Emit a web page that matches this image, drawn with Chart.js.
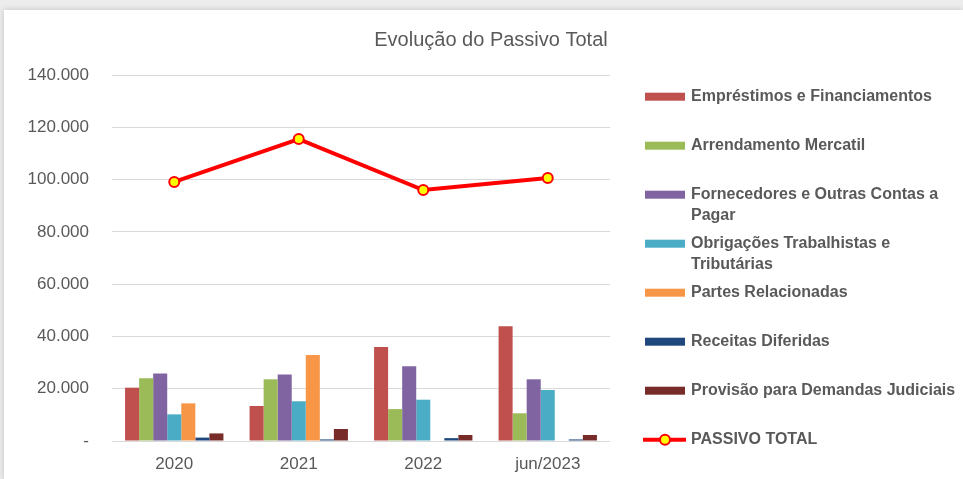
<!DOCTYPE html>
<html>
<head>
<meta charset="utf-8">
<script src="https://cdn.jsdelivr.net/npm/chart.js@4.4.1/dist/chart.umd.min.js"></script>
<style>
  html, body { margin: 0; padding: 0; background: #ececec; }
  #painel {
    position: absolute; left: 4px; top: 10px; width: 959px; height: 469px;
    background: #fff; box-shadow: 0 0 6px rgba(0,0,0,0.18);
  }
  canvas { display: block; }
</style>
</head>
<body>
<div id="painel"><canvas id="graficoPassivo" width="959" height="469"></canvas></div>
<script>
const categorias = ['2020', '2021', '2022', 'jun/2023'];

const emprestimos   = [20400, 13400, 36000, 43900];
const arrendamento  = [24000, 23600, 12200, 10600];
const fornecedores  = [25800, 25400, 28600, 23600];
const obrigacoes    = [10200, 15200, 15800, 19500];
const partesRel     = [14400, 32900, 0, 0];
const receitasDif   = [1300, 600, 1100, 600];
const provisao      = [2900, 4600, 2300, 2300];
const passivoTotal  = [99100, 115500, 96000, 100600];

const ticksY = [0, 20000, 40000, 60000, 80000, 100000, 120000, 140000];

const titulo = 'Evolução do Passivo Total';
const corTexto = '#595959';
const fonte = "'Liberation Sans', Arial, sans-serif";

function barra(label, data, cor) {
    return { type: 'bar', label: label, data: data, backgroundColor: cor, borderWidth: 0, order: 2 };
}

// titulo centralizado no quadro inteiro (o do Chart.js fica só em cima do gráfico)
const tituloQuadro = {
    id: 'tituloQuadro',
    afterDraw(chart) {
        const ctx = chart.ctx;
        ctx.save();
        ctx.font = '20px ' + fonte;
        ctx.fillStyle = corTexto;
        ctx.textAlign = 'center';
        ctx.textBaseline = 'middle';
        ctx.fillText(titulo, 487, 30);
        ctx.restore();
    }
};

// legenda desenhada à mão pra poder quebrar linha como no Excel
const legendaLateral = {
    id: 'legendaLateral',
    afterDraw(chart) {
        const ctx = chart.ctx;
        const x0 = 641, xTexto = 687, y0 = 86.7, passo = 49, maxLarg = 272;
        ctx.save();
        ctx.font = 'bold 16px ' + fonte;
        ctx.fillStyle = corTexto;
        ctx.textBaseline = 'middle';
        chart.data.datasets.forEach((ds, i) => {
            const y = y0 + i * passo;
            if (ds.type === 'line') {
                ctx.strokeStyle = ds.borderColor;
                ctx.lineWidth = 4;
                ctx.beginPath(); ctx.moveTo(x0 - 2, y); ctx.lineTo(x0 + 41, y); ctx.stroke();
                ctx.beginPath(); ctx.arc(x0 + 20, y, 5, 0, Math.PI * 2);
                ctx.fillStyle = ds.pointBackgroundColor; ctx.fill();
                ctx.lineWidth = 2; ctx.strokeStyle = ds.pointBorderColor; ctx.stroke();
            } else {
                ctx.fillStyle = ds.backgroundColor;
                ctx.fillRect(x0, y - 4, 40, 8);
            }
            ctx.fillStyle = corTexto;
            const palavras = ds.label.split(' ');
            const linhas = [];
            let atual = '';
            palavras.forEach(p => {
                const teste = atual ? atual + ' ' + p : p;
                if (ctx.measureText(teste).width > maxLarg && atual) {
                    linhas.push(atual); atual = p;
                } else {
                    atual = teste;
                }
            });
            linhas.push(atual);
            linhas.forEach((l, k) => ctx.fillText(l, xTexto, y + k * 21));
        });
        ctx.restore();
    }
};

const ctx = document.getElementById('graficoPassivo').getContext('2d');

new Chart(ctx, {
    data: {
        labels: categorias,
        datasets: [
            barra('Empréstimos e Financiamentos', emprestimos, '#C0504D'),
            barra('Arrendamento Mercatil', arrendamento, '#9BBB59'),
            barra('Fornecedores e Outras Contas a Pagar', fornecedores, '#8064A2'),
            barra('Obrigações Trabalhistas e Tributárias', obrigacoes, '#4BACC6'),
            barra('Partes Relacionadas', partesRel, '#F79646'),
            barra('Receitas Diferidas', receitasDif, '#1F497D'),
            barra('Provisão para Demandas Judiciais', provisao, '#772C2A'),
            {
                type: 'line',
                label: 'PASSIVO TOTAL',
                data: passivoTotal,
                borderColor: '#FF0000',
                borderWidth: 4,
                pointRadius: 5,
                pointBackgroundColor: '#FFFF00',
                pointBorderColor: '#FF0000',
                pointBorderWidth: 2,
                tension: 0,
                order: 1
            }
        ]
    },
    options: {
        responsive: false,
        animation: false,
        layout: { padding: { left: 0, right: 353, top: 65, bottom: 0 } },
        datasets: {
            bar: { categoryPercentage: 0.79, barPercentage: 1 }
        },
        plugins: {
            legend: { display: false },
            tooltip: { enabled: false },
            title: { display: false }
        },
        scales: {
            x: {
                grid: { display: false, drawTicks: false },
                border: { display: false },
                ticks: { color: corTexto, font: { family: fonte, size: 17 }, padding: 13 },
                afterFit(scale) { scale.height = 38; }
            },
            y: {
                min: 0,
                max: ticksY[ticksY.length - 1],
                afterBuildTicks(scale) { scale.ticks = ticksY.map(v => ({ value: v })); },
                grid: { color: '#d9d9d9', drawTicks: false },
                border: { display: false },
                ticks: {
                    color: corTexto,
                    font: { family: fonte, size: 17 },
                    padding: 23,
                    callback: v => v === 0 ? '-' : v.toLocaleString('pt-BR')
                },
                afterFit(scale) { scale.width = 108; }
            }
        }
    },
    plugins: [tituloQuadro, legendaLateral]
});
</script>
</body>
</html>
